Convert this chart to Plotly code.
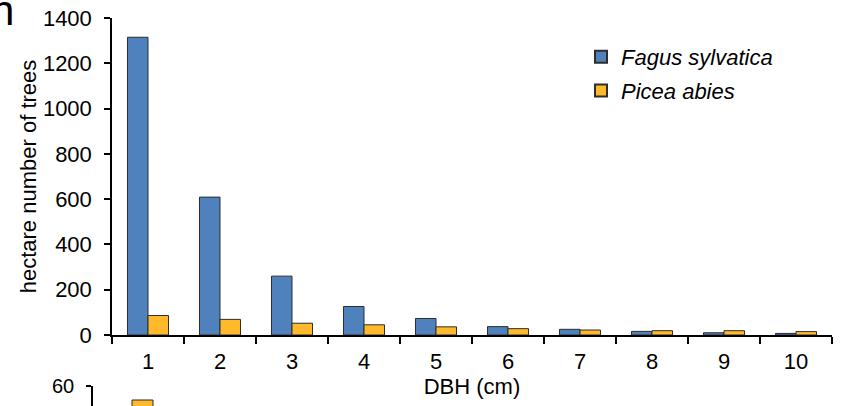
import plotly.graph_objects as go

W, H = 846, 406

dbh_classes = ["1", "2", "3", "4", "5", "6", "7", "8", "9", "10"]
fagus_sylvatica = [1315, 609, 260, 126, 73, 37, 25, 16, 10, 7]
picea_abies = [86, 69, 52, 45, 36, 28, 22, 19, 19, 15]
y_ticks = [0, 200, 400, 600, 800, 1000, 1200, 1400]

# fragment of the lower panel visible at the bottom edge
lower_x = [0.67]
lower_picea = [53]
lower_ticks = [60]

BLUE = "#4F81BD"
ORANGE = "#FFB92B"
EDGE = "rgb(45,45,45)"
FONT = "Liberation Sans, Arial, sans-serif"
FS = 22

fig = go.Figure()
fig.add_trace(go.Bar(x=dbh_classes, y=fagus_sylvatica, name="Fagus sylvatica",
                     marker=dict(color=BLUE, line=dict(color=EDGE, width=1)),
                     legendgroup="a"))
fig.add_trace(go.Bar(x=dbh_classes, y=picea_abies, name="Picea abies",
                     marker=dict(color=ORANGE, line=dict(color=EDGE, width=1)),
                     legendgroup="b"))
fig.add_trace(go.Bar(x=lower_x, y=lower_picea, width=0.284, xaxis="x2", yaxis="y2",
                     marker=dict(color=ORANGE, line=dict(color=EDGE, width=1)),
                     showlegend=False))

fig.update_layout(
    width=W, height=H,
    margin=dict(l=0, r=0, t=0, b=0),
    paper_bgcolor="white", plot_bgcolor="rgba(0,0,0,0)",
    font=dict(family=FONT, size=FS, color="black"),
    barmode="group", bargap=0.43, bargroupgap=0,
    showlegend=True,
    legend=dict(x=581 / W, y=1 - 36 / H, xanchor="left", yanchor="top",
                font=dict(family=FONT, size=FS, style="italic"),
                bgcolor="rgba(0,0,0,0)", traceorder="grouped", tracegroupgap=2,
                itemsizing="constant"),
    xaxis=dict(domain=[112 / W, 832 / W], type="category", anchor="y",
               showline=True, linecolor="black", linewidth=1.5,
               ticks="outside", tickson="boundaries", ticklen=7, tickwidth=1.5,
               tickcolor="black", showgrid=False, zeroline=False,
               ticklabelstandoff=6, automargin=False,
               title=dict(text="DBH (cm)", standoff=5, font=dict(size=FS))),
    yaxis=dict(domain=[(H - 335) / H, (H - 18) / H], range=[0, 1400], anchor="x",
               tickvals=y_ticks, showline=True, linecolor="black", linewidth=1.5,
               ticks="outside", ticklen=6, tickwidth=1.5, tickcolor="black",
               showgrid=False, zeroline=False, ticklabelstandoff=8, automargin=False,
               title=dict(text="hectare number of trees", standoff=0, font=dict(size=FS))),
    xaxis2=dict(domain=[93 / W, 832 / W], range=[0, 10], anchor="y2", visible=False),
    yaxis2=dict(domain=[0, 20 / H], range=[50, 60], anchor="x2",
                tickvals=lower_ticks, showline=True, linecolor="black", linewidth=1.5,
                ticks="outside", ticklen=5, tickwidth=1.5, tickcolor="black",
                showgrid=False, zeroline=False, ticklabelstandoff=8, automargin=False,
                tickfont=dict(size=20)),
    annotations=[dict(text="n", x=-11 / W, y=1 - 36 / H, xref="paper", yref="paper",
                      xanchor="left", yanchor="bottom", showarrow=False,
                      font=dict(family=FONT, size=42, color="black"))],
)

fig.write_html("out.html")
